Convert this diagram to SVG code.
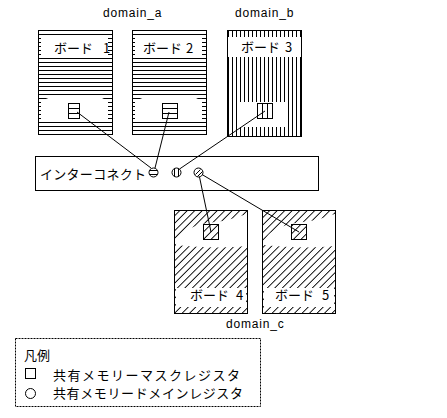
<svg xmlns="http://www.w3.org/2000/svg" width="447" height="418" viewBox="0 0 447 418">
<style>
.b{stroke:#000;stroke-width:1}
.o{fill:none;stroke:#000;stroke-width:1}
.w{fill:#fff;stroke:none}
.lat{font-family:"Liberation Sans",Arial,sans-serif;font-size:12px;letter-spacing:0.8px;fill:#000}
.jp{font-family:"Noto Sans CJK JP","Noto Sans",sans-serif;font-size:13px;fill:#000}
.jp13{font-family:"Noto Sans CJK JP","Noto Sans",sans-serif;font-size:13px;fill:#000}
.c{fill:none;stroke:#000;stroke-width:1}
</style>
<defs>
<pattern id="hp" patternUnits="userSpaceOnUse" width="4" height="4" patternTransform="translate(0,2)"><rect x="0" y="0" width="4" height="1" fill="#000"/></pattern>
<pattern id="vp" patternUnits="userSpaceOnUse" width="4" height="4"><rect x="0" y="0" width="1" height="4" fill="#000"/></pattern>
<pattern id="dp" patternUnits="userSpaceOnUse" width="5.3" height="5.3" patternTransform="rotate(45)"><rect x="0" y="0" width="0.9" height="5.3" fill="#000"/></pattern>
</defs>
<rect width="447" height="418" fill="#fff"/>

<text class="lat" x="103" y="17">domain_a</text>
<text class="lat" x="235" y="17">domain_b</text>
<text class="lat" x="226" y="328">domain_c</text>

<g id="board1">
<rect x="38.5" y="30.5" width="74" height="104" fill="url(#hp)" class="b"/>
<rect class="w" x="41" y="35" width="67" height="22"/>
<path class="w" d="M41,120 V101 L52,96.5 H99 L108,101 V120 Z"/>
<text class="jp" x="54" y="53">ボード <tspan x="103">1</tspan></text>
<rect x="68.5" y="103.5" width="11" height="15" fill="#fff" class="b"/>
<path class="o" d="M68.5,108.5 H79.5 M68.5,113.5 H79.5"/>
</g>

<g id="board2">
<rect x="132.5" y="30.5" width="74" height="104" fill="url(#hp)" class="b"/>
<rect class="w" x="135" y="35" width="67" height="22"/>
<path class="w" d="M135,120 V101 L146,96.5 H193 L202,101 V120 Z"/>
<text class="jp" x="143" y="53">ボード <tspan x="186">2</tspan></text>
<rect x="162.5" y="103.5" width="15" height="15" fill="#fff" class="b"/>
<path class="o" d="M162.5,108.5 H177.5 M162.5,113.5 H177.5"/>
</g>

<g id="board3">
<rect x="227.5" y="30.5" width="74" height="106" fill="url(#vp)" class="b"/>
<rect class="w" x="228" y="37" width="73" height="20"/>
<rect class="w" x="237" y="102" width="50" height="25"/>
<text class="jp" x="241" y="52">ボード <tspan x="285">3</tspan></text>
<rect x="257.5" y="103.5" width="15" height="15" fill="#fff" class="b"/>
<path class="o" d="M262.5,103.5 V118.5 M267.5,103.5 V118.5"/>
</g>

<g id="interconnect">
<rect x="35.5" y="156.5" width="283" height="34" fill="#fff" class="b"/>
<text class="jp13" x="40" y="179" textLength="106" lengthAdjust="spacing">インターコネクト</text>
<circle cx="153.5" cy="172.5" r="4.5" class="c"/>
<path class="o" d="M149.5,170.5 H157.5 M149.5,174.5 H157.5"/>
<circle cx="176.5" cy="172.5" r="4.5" class="c"/>
<path class="o" d="M174.5,168.5 V176.5 M178.5,168.5 V176.5"/>
<circle cx="198.5" cy="172.5" r="4.5" class="c"/>
<path class="o" d="M195.5,174.5 L200.5,169.5 M197.5,176.5 L202.5,171.5"/>
</g>

<g id="board4">
<rect x="174.5" y="210.5" width="73" height="103" fill="url(#dp)" class="b"/>
<path class="w" d="M176,245 C176,232 195,224 215,222 C232,220 240,216 247,214 L247,246 C230,248 200,248 176,245 Z"/>
<rect class="w" x="176" y="288" width="70" height="19"/>
<text class="jp" x="190" y="300">ボード <tspan x="236">4</tspan></text>
<rect x="203.5" y="224.5" width="15" height="15" fill="url(#dp)" class="b"/>
</g>

<g id="board5">
<rect x="262.5" y="210.5" width="73" height="103" fill="url(#dp)" class="b"/>
<path class="w" d="M264,245 C264,232 283,224 303,222 C320,220 328,216 335,214 L335,246 C318,248 288,248 264,245 Z"/>
<rect class="w" x="264" y="288" width="70" height="19"/>
<text class="jp" x="275" y="300">ボード <tspan x="322">5</tspan></text>
<rect x="291.5" y="224.5" width="15" height="15" fill="url(#dp)" class="b"/>
</g>

<g id="connectors" fill="none" stroke="#000" stroke-width="1">
<line x1="77" y1="112" x2="151" y2="168"/>
<line x1="169" y1="112" x2="155" y2="168"/>
<line x1="265" y1="111" x2="179.5" y2="169"/>
<line x1="199.5" y1="177" x2="211" y2="232"/>
<line x1="202" y1="174.5" x2="299" y2="232"/>
</g>

<g id="legend">
<rect x="15.5" y="338.5" width="245" height="68" fill="none" stroke="#000" stroke-width="1" stroke-dasharray="2 1"/>
<text class="jp13" x="24" y="360">凡例</text>
<rect x="25.5" y="368.5" width="10" height="10" class="o"/>
<text class="jp13" x="53" y="380" textLength="187" lengthAdjust="spacing">共有メモリーマスクレジスタ</text>
<circle cx="30.5" cy="393.5" r="5" class="c"/>
<text class="jp13" x="53" y="398" textLength="190" lengthAdjust="spacing">共有メモリードメインレジスタ</text>
</g>
</svg>
